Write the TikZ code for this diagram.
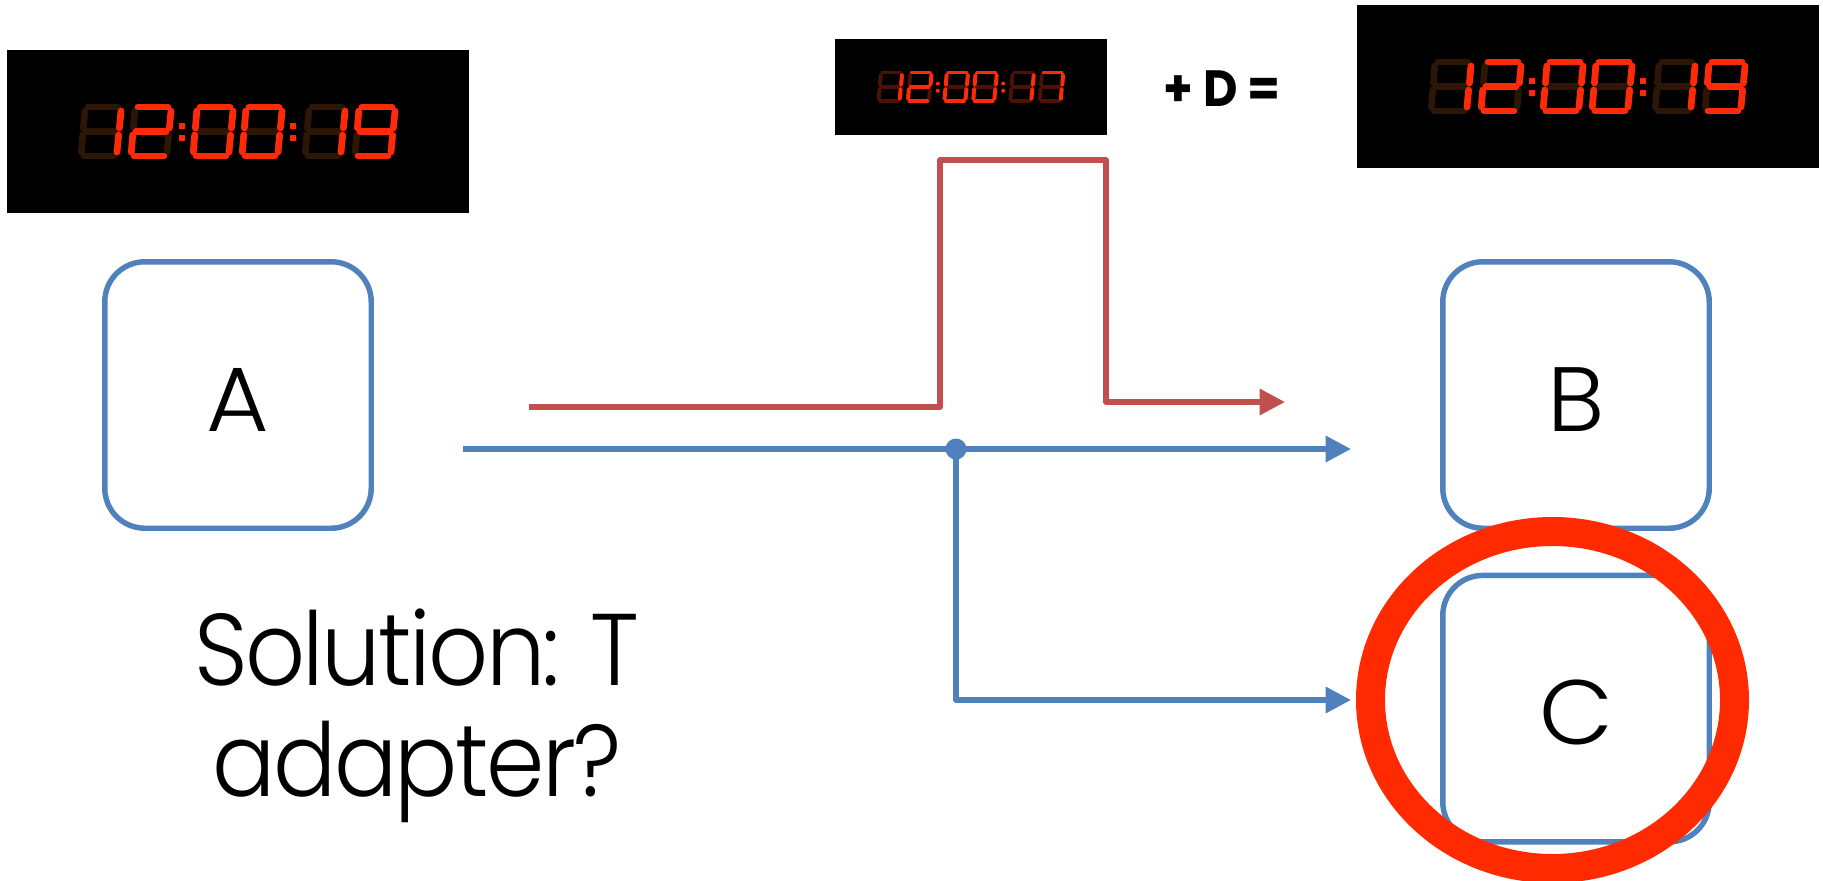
\documentclass[tikz,border=0pt]{standalone}
\usepackage{fontspec}
\setmainfont{Poppins}
\newfontfamily\notefont[FakeStretch=0.92,LetterSpace=-2.5]{Poppins Light}
\newfontfamily\blockfont[FakeStretch=1.05]{Poppins Light}
\newfontfamily\sumfont[FakeStretch=0.93]{Poppins}
\usetikzlibrary{arrows.meta,positioning}
\definecolor{boxblue}{HTML}{4F81BD}
\definecolor{linered}{HTML}{C0504D}
\definecolor{ledred}{HTML}{FF2A08}
\definecolor{ringred}{HTML}{FF2A00}
\definecolor{dimbrown}{HTML}{2C1606}
\definecolor{dimred}{HTML}{4E1204}
\tikzset{
 blockbox/.style={draw=boxblue,line width=3.1pt,rounded corners=0.8cm,minimum size=5.33cm,
             inner sep=0pt,text height=41pt,text depth=0pt,font=\blockfont\fontsize{52}{60}\selectfont},
 arrow/.style={-{Triangle[length=14.5pt,width=14.5pt]},line width=3.1pt,line join=round},
 clockface/.style={fill=black,inner sep=0pt,anchor=north west},
 junction/.style={circle,fill=boxblue,inner sep=0pt,outer sep=0pt,minimum size=0.42cm},
 ring/.style={draw=ringred,line width=16.5pt}
}
\def\sega{(10,3)--(40,3)}
\def\segb{(43,7)--(41.4,24)}
\def\segc{(40.6,31)--(39,48)}
\def\segd{(6,52)--(36,52)}
\def\sege{(3.3,48)--(4.7,31)}
\def\segf{(5.4,24)--(6.8,7)}
\def\segg{(8,27.5)--(38,27.5)}
\newcommand\clockdigit[3]{
 \begin{scope}[xshift=#1*0.02cm*\clockscale]
 \foreach \s in {a,b,c,d,e,f,g}{\draw[#2,line cap=round] \csname seg\s\endcsname;}
 \foreach \s in {#3}{\draw[ledred,line cap=round] \csname seg\s\endcsname;}
 \end{scope}
}
\newcommand\clockdisplay[6]{
 \def\clockscale{#4}
 \node[clockface,minimum width=#4*9.24cm,minimum height=#4*3.26cm] (#1) at (#2,#3) {};
 \begin{scope}[shift={(#2,#3)},x=#4*0.02cm,y=-#4*0.02cm,line width=#4*3.8pt]
 \begin{scope}[shift={(0,54)}]
 \clockdigit{71}{#5}{b,c}
 \clockdigit{121}{#5}{a,b,g,e,d}
 \clockdigit{183}{#5}{a,b,c,d,e,f}
 \clockdigit{232}{#5}{a,b,c,d,e,f}
 \clockdigit{295}{#5}{b,c}
 \clockdigit{345}{#5}{#6}
 \foreach \cx in {175,286}{
 \fill[ledred,rounded corners=0.4pt] (\cx-3,19) rectangle (\cx+3,25);
 \fill[ledred,rounded corners=0.4pt] (\cx-3,31) rectangle (\cx+3,37);
 }
 \end{scope}
 \end{scope}
}

\begin{document}
\begin{tikzpicture}[x=0.02cm,y=-0.02cm]
\useasboundingbox (0,0) rectangle (1823,880);
\clockdisplay{clockA}{7}{50}{1}{dimbrown}{a,b,c,d,f,g}
\clockdisplay{clockD}{835}{39}{0.588}{dimred}{a,b,c}
\clockdisplay{clockB}{1357}{5}{1}{dimbrown}{a,b,c,d,f,g}
\node[font=\sumfont\bfseries\fontsize{29}{34}\selectfont] (plusd) at (1222,89) {+ D =};
\node[blockbox] (a) at (238,395) {A};
\node[blockbox] (b) at (1576,395) {B};
\node[blockbox,below=0.835cm of b] (c) {C};
\node[align=center,font=\notefont\fontsize{58}{63}\selectfont] (note) at (417,716) {Solution: T\\adapter?};
\coordinate (redstart) at (529,407);
\coordinate (redrise) at (940,407);
\coordinate (redtop) at (940,160);
\coordinate (redover) at (1106,160);
\coordinate (redfall) at (1106,402);
\coordinate (redtip) at (1285,402);
\draw[arrow,linered] (redstart)--(redrise)--(redtop)--(redover)--(redfall)--(redtip);
\coordinate (bluestart) at (463,449);
\coordinate (btip) at (1351,449);
\coordinate (ctip) at (1351,700);
\node[junction] (split) at (956,449) {};
\draw[line width=3.1pt,boxblue] (bluestart)--(split.center);
\draw[arrow,boxblue] (split.center)--(btip);
\draw[arrow,boxblue] (split.center)|-(ctip);
\draw[ring] (1552.5,700) ellipse (182 and 168.5);
\end{tikzpicture}
\end{document}
